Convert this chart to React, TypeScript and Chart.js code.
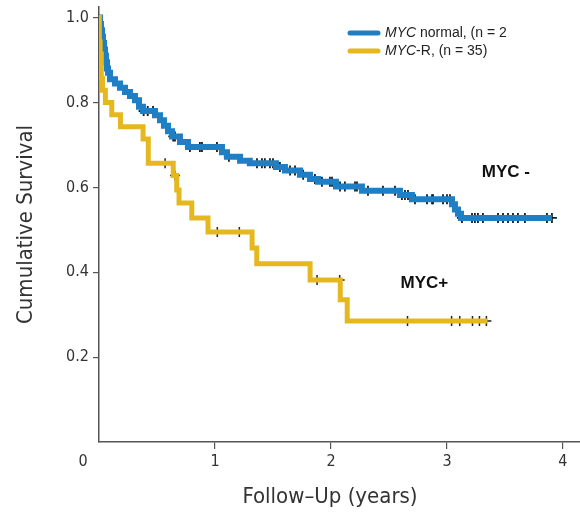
import React, { useEffect, useRef } from 'react';
import { Chart, registerables } from 'chart.js';

Chart.register(...registerables);

// ---- Data ----
const xTickValues = [0, 1, 2, 3, 4];
const yTickValues = [0.2, 0.4, 0.6, 0.8, 1.0];

// MYC normal (blue) Kaplan–Meier steps: time (years) of each drop, survival after drop
const normalTimes = [0, 0.009, 0.017, 0.026, 0.034, 0.043, 0.052, 0.06, 0.069, 0.078, 0.095, 0.138, 0.181, 0.224, 0.267, 0.31, 0.345, 0.379, 0.483, 0.526, 0.56, 0.595, 0.63, 0.698, 0.767, 1.06, 1.103, 1.216, 1.3, 1.526, 1.603, 1.733, 1.819, 1.888, 2.043, 2.267, 2.595, 2.698, 3.043, 3.069, 3.095, 3.121];
const normalSurv = [1.0, 0.985, 0.97, 0.955, 0.94, 0.925, 0.91, 0.895, 0.88, 0.87, 0.855, 0.845, 0.835, 0.825, 0.815, 0.805, 0.79, 0.78, 0.77, 0.758, 0.745, 0.732, 0.72, 0.707, 0.695, 0.683, 0.672, 0.663, 0.657, 0.648, 0.64, 0.63, 0.62, 0.613, 0.602, 0.592, 0.582, 0.572, 0.56, 0.548, 0.538, 0.528];
const normalEnd = 3.905;
const normalCensor = [0.385, 0.42, 0.466, 0.64, 0.655, 0.784, 0.87, 0.888, 1.017, 1.12, 1.362, 1.405, 1.43, 1.474, 1.5, 1.56, 1.647, 1.69, 1.76, 1.862, 1.922, 1.991, 2.009, 2.078, 2.12, 2.207, 2.224, 2.319, 2.448, 2.552, 2.612, 2.638, 2.664, 2.724, 2.828, 2.871, 2.88, 2.966, 3.0, 3.026, 3.129, 3.216, 3.241, 3.267, 3.31, 3.44, 3.483, 3.526, 3.569, 3.612, 3.672, 3.862, 3.905];

// MYC-R (yellow)
const rTimes = [0, 0.003, 0.01, 0.02, 0.03, 0.055, 0.11, 0.185, 0.38, 0.425, 0.64, 0.67, 0.69, 0.8, 0.94, 1.32, 1.36, 1.82, 2.08, 2.14];
const rSurv = [1.0, 0.943, 0.914, 0.857, 0.829, 0.8, 0.771, 0.743, 0.714, 0.657, 0.628, 0.594, 0.563, 0.528, 0.495, 0.457, 0.42, 0.382, 0.335, 0.285];
const rEnd = 3.35;
const rCensor = [0.57, 0.655, 1.02, 1.21, 1.88, 2.075, 2.66, 3.04, 3.11, 3.22, 3.28, 3.34];

const legendItems = [
  { italic: 'MYC', rest: ' normal, (n = 2', color: '#1f7fc4' },
  { italic: 'MYC', rest: '-R, (n = 35)', color: '#e6b820' },
];
const annotations = [
  { text: 'MYC -', x: 3.3, y: 0.635 },
  { text: 'MYC+', x: 2.6, y: 0.373 },
];

const BLUE = '#1f7fc4';
const YELLOW = '#e6b820';
const AXIS_FONT = "'Liberation Sans Narrow', 'DejaVu Sans Condensed', 'Roboto Condensed', 'Liberation Sans', sans-serif";
const TEXT_FONT = "'Liberation Sans', Arial, Helvetica, sans-serif";

function survAt(times: number[], surv: number[], t: number) {
  let s = surv[0];
  for (let i = 0; i < times.length; i++) if (times[i] <= t) s = surv[i];
  return s;
}
function stepPoints(times: number[], surv: number[], end: number) {
  const pts = times.map((t, i) => ({ x: t, y: surv[i] }));
  pts.push({ x: end, y: surv[surv.length - 1] });
  return pts;
}
function censorPoints(times: number[], surv: number[], cens: number[]) {
  return cens.map((t) => ({ x: t, y: survAt(times, surv, t) }));
}

const textPlugin = {
  id: 'texts',
  afterDraw(chart: any) {
    const { ctx, scales } = chart;
    const xs = scales.x;
    const ys = scales.y;
    ctx.save();
    // legend
    legendItems.forEach((it, i) => {
      const y = 33 + i * 18;
      ctx.lineCap = 'round';
      ctx.lineWidth = 5;
      ctx.strokeStyle = it.color;
      ctx.beginPath();
      ctx.moveTo(350, y);
      ctx.lineTo(378, y);
      ctx.stroke();
      ctx.fillStyle = '#222';
      ctx.textBaseline = 'middle';
      ctx.textAlign = 'left';
      ctx.font = `italic 14px ${TEXT_FONT}`;
      ctx.fillText(it.italic, 385, y);
      const w = ctx.measureText(it.italic).width;
      ctx.font = `14px ${TEXT_FONT}`;
      ctx.fillText(it.rest, 385 + w, y);
    });
    // annotations
    ctx.font = `bold 17px ${TEXT_FONT}`;
    ctx.fillStyle = '#111';
    ctx.textAlign = 'left';
    ctx.textBaseline = 'middle';
    annotations.forEach((a) => {
      ctx.fillText(a.text, xs.getPixelForValue(a.x), ys.getPixelForValue(a.y));
    });
    // origin label and x title
    ctx.fillStyle = '#333';
    ctx.font = `16px ${AXIS_FONT}`;
    ctx.textAlign = 'center';
    ctx.fillText('0', xs.getPixelForValue(0) - 16, ys.getPixelForValue(0) + 20);
    ctx.font = `22px ${AXIS_FONT}`;
    ctx.fillText('Follow–Up (years)', xs.getPixelForValue(2) - 1, 497);
    ctx.restore();
  },
};

export default function App() {
  const ref = useRef<HTMLCanvasElement | null>(null);
  useEffect(() => {
    document.body.style.margin = '0';
    const canvas = ref.current;
    if (!canvas) return;
    const chart = new Chart(canvas, {
      type: 'line',
      data: {
        datasets: [
          {
            label: 'MYC-R',
            data: stepPoints(rTimes, rSurv, rEnd),
            stepped: true,
            borderColor: YELLOW,
            borderWidth: 5,
            pointRadius: 0,
            fill: false,
            borderJoinStyle: 'miter',
          },
          {
            label: 'MYC normal',
            data: stepPoints(normalTimes, normalSurv, normalEnd),
            stepped: true,
            borderColor: BLUE,
            borderWidth: 6,
            pointRadius: 0,
            fill: false,
            borderJoinStyle: 'miter',
          },
          {
            label: 'censor R',
            data: censorPoints(rTimes, rSurv, rCensor),
            showLine: false,
            pointStyle: 'cross',
            pointRadius: 5,
            pointBorderColor: '#222',
            pointBorderWidth: 1.5,
          },
          {
            label: 'censor normal',
            data: censorPoints(normalTimes, normalSurv, normalCensor),
            showLine: false,
            pointStyle: 'cross',
            pointRadius: 5,
            pointBorderColor: '#1a1a1a',
            pointBorderWidth: 1.8,
          },
        ],
      },
      options: {
        animation: false,
        responsive: false,
        maintainAspectRatio: false,
        layout: { autoPadding: false, padding: { top: 7, right: 0, left: 0, bottom: 0 } },
        plugins: { legend: { display: false }, tooltip: { enabled: false } },
        scales: {
          x: {
            type: 'linear',
            min: 0,
            max: 4.147,
            afterFit: (s: any) => { s.height = 73; s.paddingRight = 0; s.paddingLeft = 0; },
            afterBuildTicks: (s: any) => { s.ticks = xTickValues.map((v) => ({ value: v })); },
            border: { color: '#555', width: 1.5 },
            grid: {
              drawOnChartArea: false,
              tickLength: 7,
              tickColor: (c: any) => (c.tick && c.tick.value === 0 ? 'rgba(0,0,0,0)' : '#555'),
              lineWidth: 1.2,
            },
            ticks: {
              callback: (v: any) => (v === 0 ? '' : String(v)),
              font: { family: AXIS_FONT, size: 16 },
              color: '#333',
              padding: 3,
              maxRotation: 0,
              autoSkip: false,
            },
          },
          y: {
            type: 'linear',
            min: 0,
            max: 1.025,
            afterFit: (s: any) => { s.width = 99; s.paddingTop = 0; s.paddingBottom = 0; },
            afterBuildTicks: (s: any) => { s.ticks = yTickValues.map((v) => ({ value: v })); },
            border: { color: '#555', width: 1.5 },
            grid: { drawOnChartArea: false, tickLength: 6, tickColor: '#555', lineWidth: 1.2 },
            ticks: {
              callback: (v: any) => Number(v).toFixed(1),
              font: { family: AXIS_FONT, size: 16 },
              color: '#333',
              padding: 4,
              autoSkip: false,
            },
            title: {
              display: true,
              text: 'Cumulative Survival',
              font: { family: AXIS_FONT, size: 22 },
              color: '#333',
              padding: { top: 13, bottom: 0 },
            },
          },
        },
      },
      plugins: [textPlugin],
    } as any);
    return () => chart.destroy();
  }, []);
  return (
    <div style={{ width: 580, height: 515, background: '#fff' }}>
      <canvas ref={ref} width={580} height={515} style={{ display: 'block' }} />
    </div>
  );
}
